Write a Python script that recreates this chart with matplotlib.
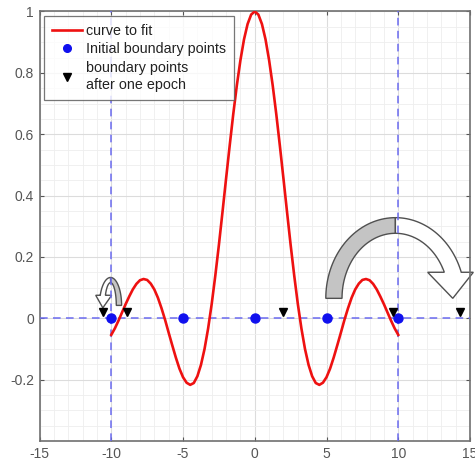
import numpy as np
import matplotlib.pyplot as plt
from matplotlib.patches import Polygon
from matplotlib.lines import Line2D

plt.rcParams['font.family'] = ['Liberation Sans', 'DejaVu Sans']
plt.rcParams['axes.unicode_minus'] = False

# curve to fit, sampled on x >= 0 (the curve is even, mirrored below)
half_x = [0.0, 0.25, 0.5, 0.75, 1.0, 1.25, 1.5, 1.75, 2.0, 2.25, 2.5, 2.75,
          3.0, 3.25, 3.5, 3.75, 4.0, 4.25, 4.5, 4.75, 5.0, 5.25, 5.5, 5.75,
          6.0, 6.25, 6.5, 6.75, 7.0, 7.25, 7.5, 7.75, 8.0, 8.25, 8.5, 8.75,
          9.0, 9.25, 9.5, 9.75, 10.0]
half_y = [1.000, 0.990, 0.959, 0.909, 0.841, 0.759, 0.665, 0.562, 0.455,
          0.346, 0.239, 0.139, 0.047, -0.033, -0.100, -0.152, -0.189, -0.211,
          -0.217, -0.210, -0.192, -0.164, -0.128, -0.088, -0.047, -0.005,
          0.033, 0.067, 0.094, 0.113, 0.125, 0.128, 0.124, 0.112, 0.094,
          0.071, 0.046, 0.019, -0.008, -0.033, -0.054]
curve_x = [-v for v in half_x[:0:-1]] + half_x
curve_y = half_y[:0:-1] + half_y

init_x = [-10, -5, 0, 5, 10]
init_y = [0, 0, 0, 0, 0]

epoch_x = [-10.6, -8.9, 1.95, 9.65, 14.3]
epoch_y = [0.02, 0.02, 0.02, 0.02, 0.02]

x_ticks = [-15, -10, -5, 0, 5, 10, 15]
y_ticks = [-0.2, 0, 0.2, 0.4, 0.6, 0.8, 1]
y_labels = ['-0.2', '0', '0.2', '0.4', '0.6', '0.8', '1']

fig = plt.figure(figsize=(4.75, 4.65), dpi=100)
ax = fig.add_axes([0.0832, 0.0516, 0.9063, 0.9237])

ax.set_xlim(-15, 15)
ax.set_ylim(-0.4, 1)
ax.set_xticks(x_ticks)
ax.set_xticks(np.arange(-15, 16, 1), minor=True)
ax.set_yticks(y_ticks)
ax.set_yticklabels(y_labels)
ax.set_yticks(np.arange(-0.4, 1.001, 0.05), minor=True)
ax.grid(which='major', color='#dcdcdc', lw=0.8)
ax.grid(which='minor', color='#eeeeee', lw=0.6)
ax.set_axisbelow(True)
ax.tick_params(which='major', direction='in', length=3, width=0.8,
               top=True, right=True, labelsize=10, colors='#555555',
               pad=4)
ax.tick_params(which='minor', length=0)
for s in ax.spines.values():
    s.set_color('#707070')
    s.set_linewidth(1.2)


def band(cx, cy, rxo, ryo, rxi, ryi, a0, a1, n=40):
    # outer arc a0 -> a1, inner arc back a1 -> a0 (degrees)
    t = np.radians(np.linspace(a0, a1, n))
    outer = np.column_stack([cx + rxo * np.cos(t), cy + ryo * np.sin(t)])
    inner = np.column_stack([cx + rxi * np.cos(t[::-1]), cy + ryi * np.sin(t[::-1])])
    return np.vstack([outer, inner])


def curved_arrow(cx, cy, rxo, ryo, rxi, ryi, side, head_y, head_w, tip_y, z=2.5):
    # side = +1: shaded arm on the left, head on the right; -1 mirrors it
    edge = '#505050'
    if side > 0:
        shade = band(cx, cy, rxo, ryo, rxi, ryi, 180, 90)
    else:
        shade = band(cx, cy, rxo, ryo, rxi, ryi, 0, 90)
    ax.add_patch(Polygon(shade, closed=True, fc='#c4c4c4', ec=edge, lw=1,
                         zorder=z, clip_on=False))
    ao = np.degrees(np.arcsin((head_y - cy) / ryo))
    ai = np.degrees(np.arcsin((head_y - cy) / ryi))
    if side < 0:
        ao, ai = 180 - ao, 180 - ai
    to = np.radians(np.linspace(90, ao, 40))
    ti = np.radians(np.linspace(ai, 90, 40))
    outer = np.column_stack([cx + rxo * np.cos(to), cy + ryo * np.sin(to)])
    inner = np.column_stack([cx + rxi * np.cos(ti), cy + ryi * np.sin(ti)])
    xo, xi = outer[-1, 0], inner[0, 0]
    mid = (xo + xi) / 2
    head = np.array([[xo + side * head_w * 0.42, head_y],
                     [mid, tip_y],
                     [xi - side * head_w * 0.58, head_y]])
    pts = np.vstack([outer, head, inner])
    ax.add_patch(Polygon(pts, closed=True, fc='white', ec=edge, lw=1,
                         zorder=z, clip_on=False))


curved_arrow(9.8, 0.065, 4.85, 0.263, 3.72, 0.212, +1, 0.150, 2.0, 0.065)
curved_arrow(-10.05, 0.042, 0.77, 0.091, 0.40, 0.074, -1, 0.075, 0.75, 0.034)

dash = dict(color='#6b6bf0', lw=1.1, ls=(0, (5, 3.5)), zorder=2.8)
ax.axvline(-10, **dash)
ax.axvline(10, **dash)
ax.axhline(0, **dash)

ax.plot(curve_x, curve_y, color='#ee1111', lw=1.9, zorder=3)
ax.plot(init_x, init_y, 'o', color='#1010ee', ms=6.5, zorder=4)
ax.plot(epoch_x, epoch_y, 'v', color='black', ms=5.5, zorder=4, clip_on=False)

handles = [Line2D([], [], color='#ee1111', lw=1.9),
           Line2D([], [], marker='o', ls='none', color='#1010ee', ms=5.5),
           Line2D([], [], marker='v', ls='none', color='black', ms=5.5)]
labels = ['curve to fit', 'Initial boundary points',
          'boundary points\nafter one epoch']
leg = ax.legend(handles, labels, loc='upper left', fontsize=10.3,
                frameon=True, fancybox=False, borderaxespad=0.3,
                handlelength=2.1, handletextpad=0.3, labelspacing=0.32,
                borderpad=0.55)
leg.get_frame().set_edgecolor('#555555')
leg.get_frame().set_linewidth(0.9)
for t in leg.get_texts():
    t.set_color('#222222')
    t.set_linespacing(1.3)
leg.set_zorder(6)

fig.savefig('out.png', dpi=100)
